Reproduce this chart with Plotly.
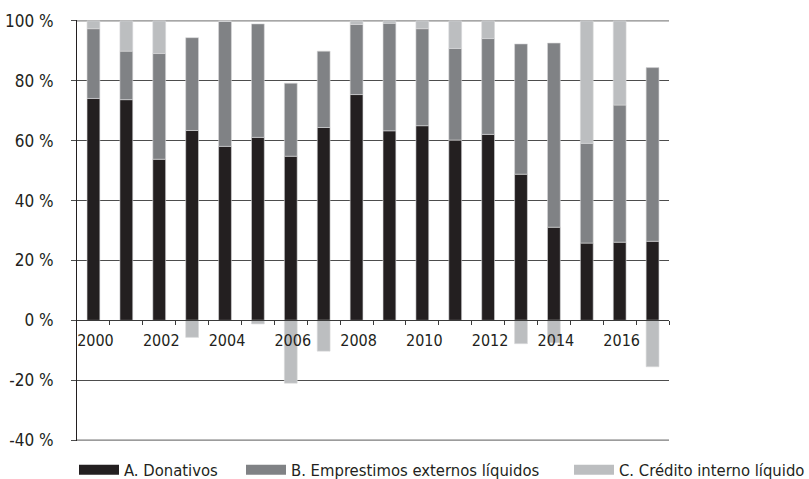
import plotly.graph_objects as go

years = list(range(2000, 2018))
donativos = [74.1, 73.7, 53.8, 63.4, 58.1, 61.1, 54.8, 64.4, 75.4, 63.3,
             65.0, 60.2, 62.1, 48.8, 31.1, 25.8, 26.1, 26.4]
emprestimos = [23.3, 16.2, 35.3, 31.0, 41.7, 37.9, 24.4, 25.5, 23.4, 35.9,
               32.4, 30.6, 32.0, 43.5, 61.5, 33.3, 45.8, 58.0]
credito = [2.6, 10.1, 10.9, -5.7, 0.2, -1.2, -21.0, -10.3, 1.2, 0.8,
           2.6, 9.2, 5.9, -7.8, -7.5, 40.9, 28.1, -15.5]
names = ["A. Donativos", "B. Emprestimos externos líquidos", "C. Crédito interno líquido"]
colors = ["#231f20", "#808285", "#bcbec0"]
tick_years = [2000, 2002, 2004, 2006, 2008, 2010, 2012, 2014, 2016]
y_ticks = [-40, -20, 0, 20, 40, 60, 80, 100]

FONT = "Liberation Sans Narrow, DejaVu Sans Condensed, Arial Narrow, sans-serif"
TXT = "#231f20"

fig = go.Figure()
series = [donativos, emprestimos, credito]
for i, (vals, name, col) in enumerate(zip(series, names, colors)):
    fig.add_trace(go.Bar(
        x=years, y=vals, name=name, width=0.39,
        marker=dict(color=col, line=dict(color="#d9d9da", width=0.6)),
        showlegend=False,
    ))
legend_ids = ["legend", "legend2", "legend3"]
for name, col, lid in zip(names, colors, legend_ids):
    fig.add_trace(go.Scatter(
        x=[None], y=[None], mode="lines", name=name,
        line=dict(color=col, width=10), legend=lid, showlegend=True,
    ))

W, H = 809, 479
ml, mr, mt, mb = 77, 140, 20, 38
pw = W - ml - mr
ph = H - mt - mb

def lx(px):
    return (px - ml) / pw

leg_common = dict(orientation="h", yanchor="middle", xanchor="left",
                  font=dict(family=FONT, size=16.5, color=TXT),
                  bgcolor="rgba(0,0,0,0)", itemwidth=40, tracegroupgap=0)
ly = -(470 - (H - mb)) / ph

fig.update_layout(
    width=W, height=H,
    margin=dict(l=ml, r=mr, t=mt, b=mb, autoexpand=False),
    plot_bgcolor="white", paper_bgcolor="white",
    barmode="relative",
    font=dict(family=FONT, size=16, color=TXT),
    legend=dict(x=lx(74), y=ly, **leg_common),
    legend2=dict(x=lx(241), y=ly, **leg_common),
    legend3=dict(x=lx(569), y=ly, **leg_common),
    xaxis=dict(
        range=[1999.5, 2017.5],
        anchor="free", position=40.3 / 140.6,
        tickmode="array", tickvals=tick_years, ticktext=[str(t) for t in tick_years],
        ticks="", showgrid=False, zeroline=False,
        showline=True, linecolor="#3a3a3a", linewidth=1,
        ticklabelstandoff=5, ticklabelshift=2,
        tickfont=dict(family=FONT, size=16, color=TXT),
        minor=dict(tickmode="array", tickvals=[y + 0.5 for y in years],
                   ticks="outside", ticklen=4, tickcolor="#3a3a3a", tickwidth=1,
                   showgrid=False),
    ),
    yaxis=dict(
        range=[-40.3, 100.3],
        tickmode="array", tickvals=y_ticks,
        ticktext=[f"{v} %" for v in y_ticks],
        showgrid=True, gridcolor="#4d4d4d", gridwidth=1,
        zeroline=False,
        showline=True, linecolor="#231f20", linewidth=1,
        ticks="outside", ticklen=5, tickcolor="#4d4d4d",
        ticklabelstandoff=14,
        tickfont=dict(family=FONT, size=17, color=TXT),
    ),
    shapes=[
        dict(type="line", xref="paper", yref="y", x0=0, x1=1, y0=y_ticks[-1], y1=y_ticks[-1],
             line=dict(color="#8a8a8a", width=1.2), layer="below"),
        dict(type="line", xref="paper", yref="y", x0=0, x1=1, y0=y_ticks[0], y1=y_ticks[0],
             line=dict(color="#5a5a5a", width=1), layer="below"),
    ],
)

fig.write_html("out.html", config={"displayModeBar": False},
               post_script="document.body.style.margin='0';")
